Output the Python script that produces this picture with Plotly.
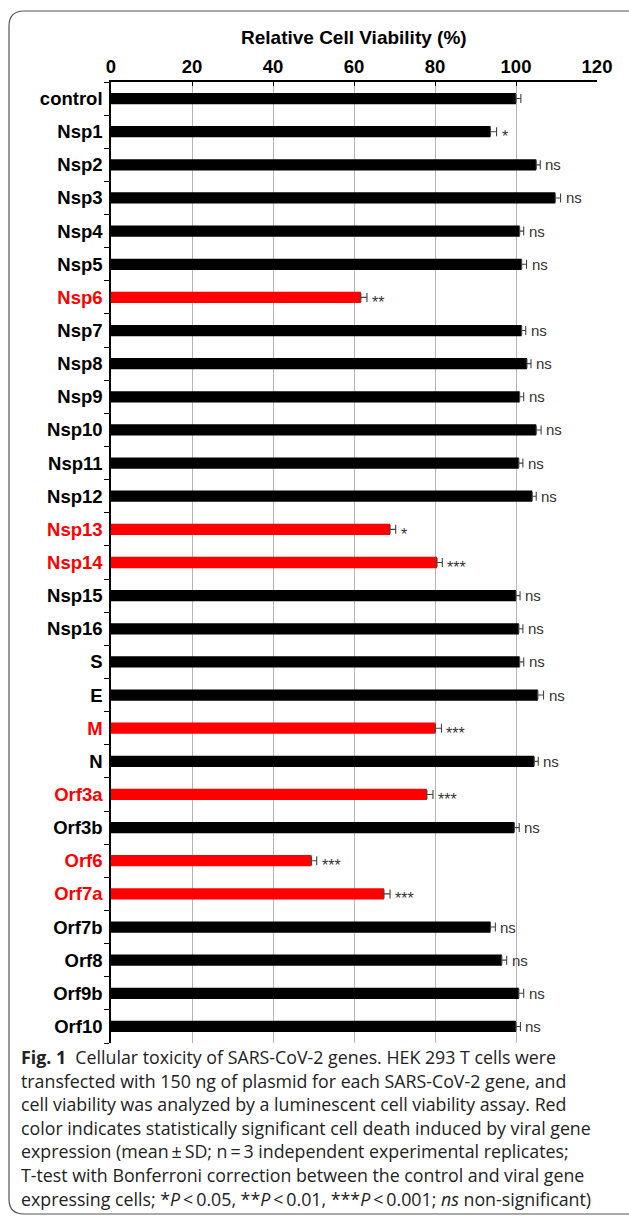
import plotly.graph_objects as go

categories = ["control", "Nsp1", "Nsp2", "Nsp3", "Nsp4", "Nsp5", "Nsp6", "Nsp7", "Nsp8",
              "Nsp9", "Nsp10", "Nsp11", "Nsp12", "Nsp13", "Nsp14", "Nsp15", "Nsp16",
              "S", "E", "M", "N", "Orf3a", "Orf3b", "Orf6", "Orf7a", "Orf7b", "Orf8",
              "Orf9b", "Orf10"]
viability = [100.0, 93.7, 105.0, 109.7, 100.9, 101.4, 61.7, 101.4, 102.7,
             100.9, 105.0, 100.7, 104.0, 68.9, 80.5, 100.0, 100.7,
             100.9, 105.4, 80.1, 104.5, 78.0, 99.6, 49.5, 67.4, 93.7, 96.5,
             100.7, 100.0]
sd = [1.2, 1.5, 1.0, 1.3, 1.0, 1.2, 1.5, 1.0, 1.0,
      1.0, 1.2, 1.0, 1.0, 1.4, 1.3, 1.0, 1.0,
      1.0, 1.4, 1.5, 1.0, 1.5, 1.2, 1.3, 1.5, 1.2, 1.2,
      1.2, 1.1]
significance = ["", "*", "ns", "ns", "ns", "ns", "**", "ns", "ns",
                "ns", "ns", "ns", "ns", "*", "***", "ns", "ns",
                "ns", "ns", "***", "ns", "***", "ns", "***", "***", "ns", "ns",
                "ns", "ns"]
significant = ["Nsp6", "Nsp13", "Nsp14", "M", "Orf3a", "Orf6", "Orf7a"]
x_ticks = [0, 20, 40, 60, 80, 100, 120]

caption_lines = [
    "<b>Fig. 1</b>  Cellular toxicity of SARS-CoV-2 genes. HEK 293 T cells were",
    "transfected with 150 ng of plasmid for each SARS-CoV-2 gene, and",
    "cell viability was analyzed by a luminescent cell viability assay. Red",
    "color indicates statistically significant cell death induced by viral gene",
    "expression (mean\u2009\u00b1\u2009SD; n\u2009=\u20093 independent experimental replicates;",
    "T-test with Bonferroni correction between the control and viral gene",
    "expressing cells; *<i>P</i>\u2009<\u20090.05, **<i>P</i>\u2009<\u20090.01, ***<i>P</i>\u2009<\u20090.001; <i>ns</i> non-significant)",
]

W, H = 629, 1217
L, R, T, B = 111, 597, 82, 1043
pw, ph = R - L, B - T

def px_x(p):
    return (p - L) / pw

def px_y(p):
    return (B - p) / ph

RED = "#ff0000"
colors = [RED if c in significant else "black" for c in categories]
ticktext = [f"<span style='color:{RED}'>{c}</span>" if c in significant else c for c in categories]

LABEL_FONT = "Liberation Sans, Arial, sans-serif"

fig = go.Figure()
fig.add_trace(go.Bar(
    y=categories, x=viability, orientation="h",
    marker=dict(color=colors, line=dict(width=0)),
    width=0.34,
    error_x=dict(type="data", symmetric=False, array=sd, arrayminus=[0] * len(sd),
                 color="#444444", thickness=1.1, width=4.5),
    showlegend=False,
))

annotations = []
for c, v, s, sig in zip(categories, viability, sd, significance):
    if not sig:
        continue
    star = sig != "ns"
    annotations.append(dict(
        x=v + s, y=c, xref="x", yref="y", text=sig, showarrow=False,
        xanchor="left", yanchor="middle", xshift=3, yshift=-5 if star else 0,
        font=dict(family="Liberation Sans, Arial", size=16 if star else 15, color="#333333"),
    ))

annotations.append(dict(
    x=0.5, y=px_y(37), xref="paper", yref="paper", text="<b>Relative Cell Viability (%)</b>",
    showarrow=False, xanchor="center", yanchor="middle",
    font=dict(family=LABEL_FONT, size=19, color="black"),
))

y0, dy = 1057, 23.6
for i, line in enumerate(caption_lines):
    annotations.append(dict(
        x=px_x(19), y=px_y(y0 + i * dy), xref="paper", yref="paper", text=line,
        showarrow=False, xanchor="left", yanchor="middle", align="left",
        font=dict(family="Open Sans, Noto Sans, sans-serif", size=17.8, color="#222222"),
    ))

# rounded frame (left, top, bottom edges visible; right edge beyond the page)
fl, ft, fb, fr, rad = 9, 11, 1214, 660, 15
path = (f"M {px_x(fr)},{px_y(ft)} L {px_x(fl + rad)},{px_y(ft)} "
        f"Q {px_x(fl)},{px_y(ft)} {px_x(fl)},{px_y(ft + rad)} "
        f"L {px_x(fl)},{px_y(fb - rad)} "
        f"Q {px_x(fl)},{px_y(fb)} {px_x(fl + rad)},{px_y(fb)} "
        f"L {px_x(fr)},{px_y(fb)}")

fig.update_layout(
    width=W, height=H,
    margin=dict(l=L, r=W - R, t=T, b=H - B),
    paper_bgcolor="white", plot_bgcolor="white",
    annotations=annotations,
    shapes=[dict(type="path", path=path, xref="paper", yref="paper",
                 line=dict(color="#555555", width=1.2), layer="below")],
    xaxis=dict(
        side="top", range=[0, 120], tickvals=x_ticks, ticktext=[str(t) for t in x_ticks],
        showgrid=True, gridcolor="#b5b5b5", gridwidth=1,
        showline=True, linecolor="black", linewidth=1.5,
        ticks="inside", ticklen=4, tickcolor="black", tickwidth=1.2,
        tickfont=dict(family=LABEL_FONT, size=18.5, color="black", weight="bold"),
        zeroline=False, fixedrange=True,
    ),
    yaxis=dict(
        type="category", categoryorder="array", categoryarray=categories,
        tickvals=categories, ticktext=ticktext,
        range=[len(categories) - 0.5, -0.5],
        showgrid=False, showline=True, linecolor="black", linewidth=1.5,
        ticks="outside", ticklen=5, tickcolor="black", tickwidth=1.2, tickson="boundaries",
        ticklabelstandoff=3,
        tickfont=dict(family=LABEL_FONT, size=18.5, color="black", weight="bold"),
        fixedrange=True,
    ),
)

fig.write_html("out.html")
